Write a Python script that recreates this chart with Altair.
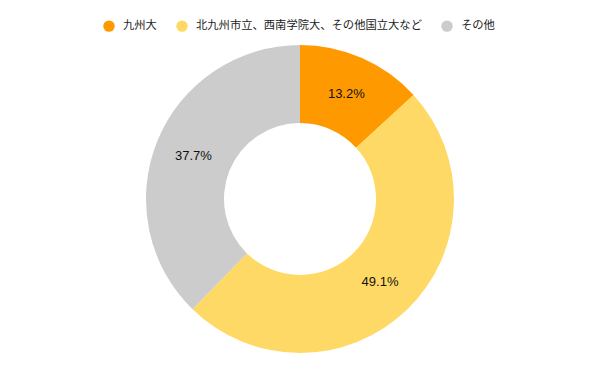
import altair as alt
import pandas as pd

categories = ["九州大", "北九州市立、西南学院大、その他国立大など", "その他"]
values = [13.2, 49.1, 37.7]
labels = ["13.2%", "49.1%", "37.7%"]
colors = ["#FF9900", "#FFD966", "#CCCCCC"]

df = pd.DataFrame({"cat": categories, "val": values, "label": labels, "idx": list(range(len(categories)))})

base = alt.Chart(df).encode(
    theta=alt.Theta("val:Q", stack=True),
    order=alt.Order("idx:Q", sort="ascending"),
    x=alt.value(300),
    y=alt.value(199),
)

arcs = base.mark_arc(outerRadius=154, innerRadius=76, stroke="white", strokeWidth=0).encode(
    color=alt.Color(
        "cat:N",
        scale=alt.Scale(domain=categories, range=colors),
        legend=alt.Legend(
            title=None,
            orient="none",
            legendX=103,
            legendY=20,
            direction="horizontal",
            symbolType="circle",
            symbolSize=130,
            symbolStrokeWidth=0,
            labelFont="Noto Sans CJK JP",
            labelFontSize=11.3,
            labelColor="#222222",
            labelOffset=8,
            labelLimit=400,
            columnPadding=19,
        ),
    )
)

text = base.mark_text(radius=115, font="Liberation Sans", fontSize=13, color="#111111").encode(
    text="label:N"
)

chart = (
    alt.layer(arcs, text)
    .properties(width=600, height=371, autosize=alt.AutoSizeParams(type="none"), padding=0)
    .configure_view(stroke=None)
)

chart.save("out.html", embed_options={"renderer": "svg", "actions": False})
